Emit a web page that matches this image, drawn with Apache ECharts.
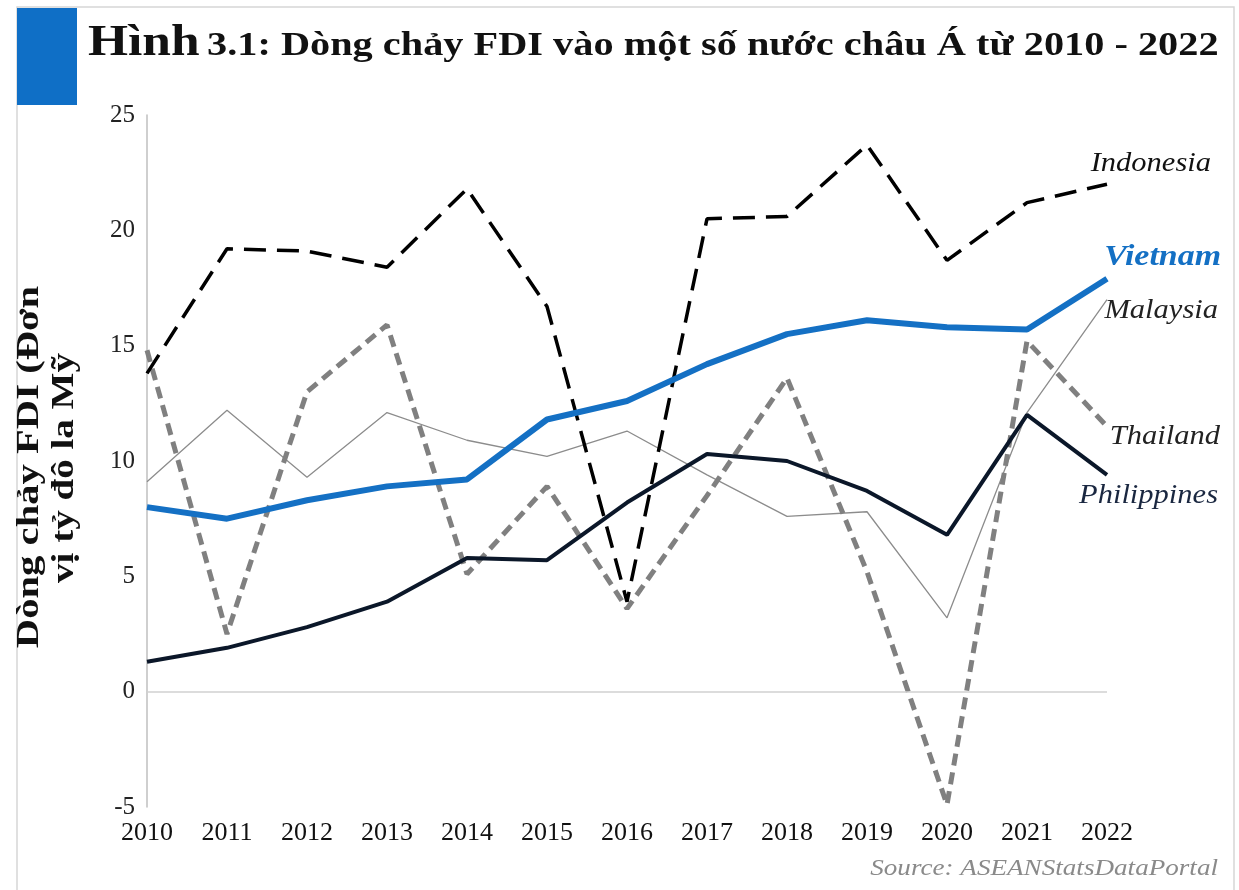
<!DOCTYPE html>
<html>
<head>
<meta charset="utf-8">
<script src="https://cdn.jsdelivr.net/npm/echarts@6/dist/echarts.min.js"></script>
<style>
  html, body { margin: 0; padding: 0; background: #fff; }
  #chart { width: 1239px; height: 890px; }
</style>
</head>
<body>
<div id="chart"></div>
<script>
// Số liệu (tỷ USD)
const years = ['2010', '2011', '2012', '2013', '2014', '2015', '2016', '2017', '2018', '2019', '2020', '2021', '2022'];
const indonesia = [13.8, 19.2, 19.1, 18.4, 21.8, 16.7, 3.9, 20.5, 20.6, 23.7, 18.7, 21.2, 22.0];
const vietnam = [8.0, 7.5, 8.3, 8.9, 9.2, 11.8, 12.6, 14.2, 15.5, 16.1, 15.8, 15.7, 17.9];
const malaysia = [9.1, 12.2, 9.3, 12.1, 10.9, 10.2, 11.3, 9.4, 7.6, 7.8, 3.2, 12.1, 17.0];
const thailand = [14.8, 2.5, 13.0, 15.9, 5.1, 8.9, 3.6, 8.5, 13.6, 5.2, -4.9, 15.2, 11.5];
const philippines = [1.3, 1.9, 2.8, 3.9, 5.8, 5.7, 8.2, 10.3, 10.0, 8.7, 6.8, 12.0, 9.4];
const yTicks = [-5, 0, 5, 10, 15, 20, 25];

const serif = "'Liberation Serif', 'Times New Roman', serif";
const axisGrey = '#BFBFBF';
// chữ trong ảnh gốc bị kéo giãn theo chiều ngang
const stretch = 1.13;

const myChart = echarts.init(document.getElementById('chart'), null, { renderer: 'canvas' });

const seriesLabel = (text, x, y, color, bold, size) => ({
  type: 'text',
  x: x,
  y: y,
  scaleX: stretch,
  style: {
    text: text,
    fill: color,
    font: (bold ? 'italic bold ' : 'italic ') + size + 'px ' + serif,
    align: 'right',
    verticalAlign: 'middle'
  }
});

const option = {
  backgroundColor: '#fff',
  animation: false,
  grid: { left: 147, right: 132, top: 115, bottom: 83, containLabel: false },
  xAxis: {
    type: 'category',
    data: years,
    boundaryGap: false,
    axisLine: { show: false, onZero: false },
    axisTick: { show: false },
    axisLabel: { color: '#111', fontFamily: serif, fontSize: 26, margin: 13 }
  },
  yAxis: {
    type: 'value',
    min: yTicks[0],
    max: yTicks[yTicks.length - 1],
    interval: 5,
    axisLine: { show: true, lineStyle: { color: axisGrey, width: 1.5 } },
    axisTick: { show: false },
    splitLine: { show: false },
    axisLabel: { color: '#222', fontFamily: serif, fontSize: 25, margin: 12, padding: [6, 0, 0, 0] }
  },
  series: [
    {
      name: 'Malaysia', type: 'line', data: malaysia, symbol: 'none',
      lineStyle: { color: '#8C8C8C', width: 1.3 },
      markLine: {
        silent: true, symbol: 'none', label: { show: false },
        lineStyle: { color: '#D0D0D0', width: 1.5, type: 'solid' },
        data: [{ yAxis: 0 }]
      }
    },
    {
      name: 'Thailand', type: 'line', data: thailand, symbol: 'none',
      lineStyle: { color: '#808080', width: 5, type: [12, 7] }
    },
    {
      name: 'Philippines', type: 'line', data: philippines, symbol: 'none',
      lineStyle: { color: '#0B1729', width: 4 }
    },
    {
      name: 'Indonesia', type: 'line', data: indonesia, symbol: 'none',
      lineStyle: { color: '#000', width: 3.5, type: [22, 11] }
    },
    {
      name: 'Vietnam', type: 'line', data: vietnam, symbol: 'none',
      lineStyle: { color: '#1470C4', width: 6 }
    }
  ],
  graphic: [
    // khung viền
    { type: 'rect', shape: { x: 17, y: 7, width: 1217, height: 900 }, style: { fill: 'none', stroke: '#D6D6D6', lineWidth: 1.5 }, z: -1 },
    // ô màu xanh
    { type: 'rect', shape: { x: 17, y: 8, width: 60, height: 97 }, style: { fill: '#0F6FC6' } },
    {
      type: 'text', x: 88, y: 22, scaleX: 1.17,
      style: { text: 'Hình', fill: '#111', font: 'bold 44px ' + serif, verticalAlign: 'top' }
    },
    {
      type: 'text', x: 207, y: 29, scaleX: 1.186,
      style: { text: '3.1: Dòng chảy FDI vào một số nước châu Á từ 2010 - 2022', fill: '#111', font: 'bold 34px ' + serif, verticalAlign: 'top' }
    },
    {
      type: 'text', x: 30, y: 467, rotation: Math.PI / 2, scaleX: 1.27,
      style: { text: 'Dòng chảy FDI (Đơn', fill: '#111', font: 'bold 32px ' + serif, align: 'center', verticalAlign: 'middle' }
    },
    {
      type: 'text', x: 65, y: 468, rotation: Math.PI / 2, scaleX: 1.22,
      style: { text: 'vị tỷ đô la Mỹ', fill: '#111', font: 'bold 32px ' + serif, align: 'center', verticalAlign: 'middle' }
    },
    seriesLabel('Indonesia', 1211, 164, '#111', false, 27),
    seriesLabel('Vietnam', 1221, 257, '#1470C4', true, 30),
    seriesLabel('Malaysia', 1218, 311, '#222', false, 27),
    seriesLabel('Thailand', 1220, 437, '#222', false, 27),
    seriesLabel('Philippines', 1218, 496, '#1A2740', false, 27),
    {
      type: 'text', x: 1218, y: 869, scaleX: stretch,
      style: { text: 'Source: ASEANStatsDataPortal', fill: '#8A8A8A', font: 'italic 24px ' + serif, align: 'right', verticalAlign: 'middle' }
    }
  ]
};

myChart.setOption(option);
window.addEventListener('resize', () => myChart.resize());
</script>
</body>
</html>
